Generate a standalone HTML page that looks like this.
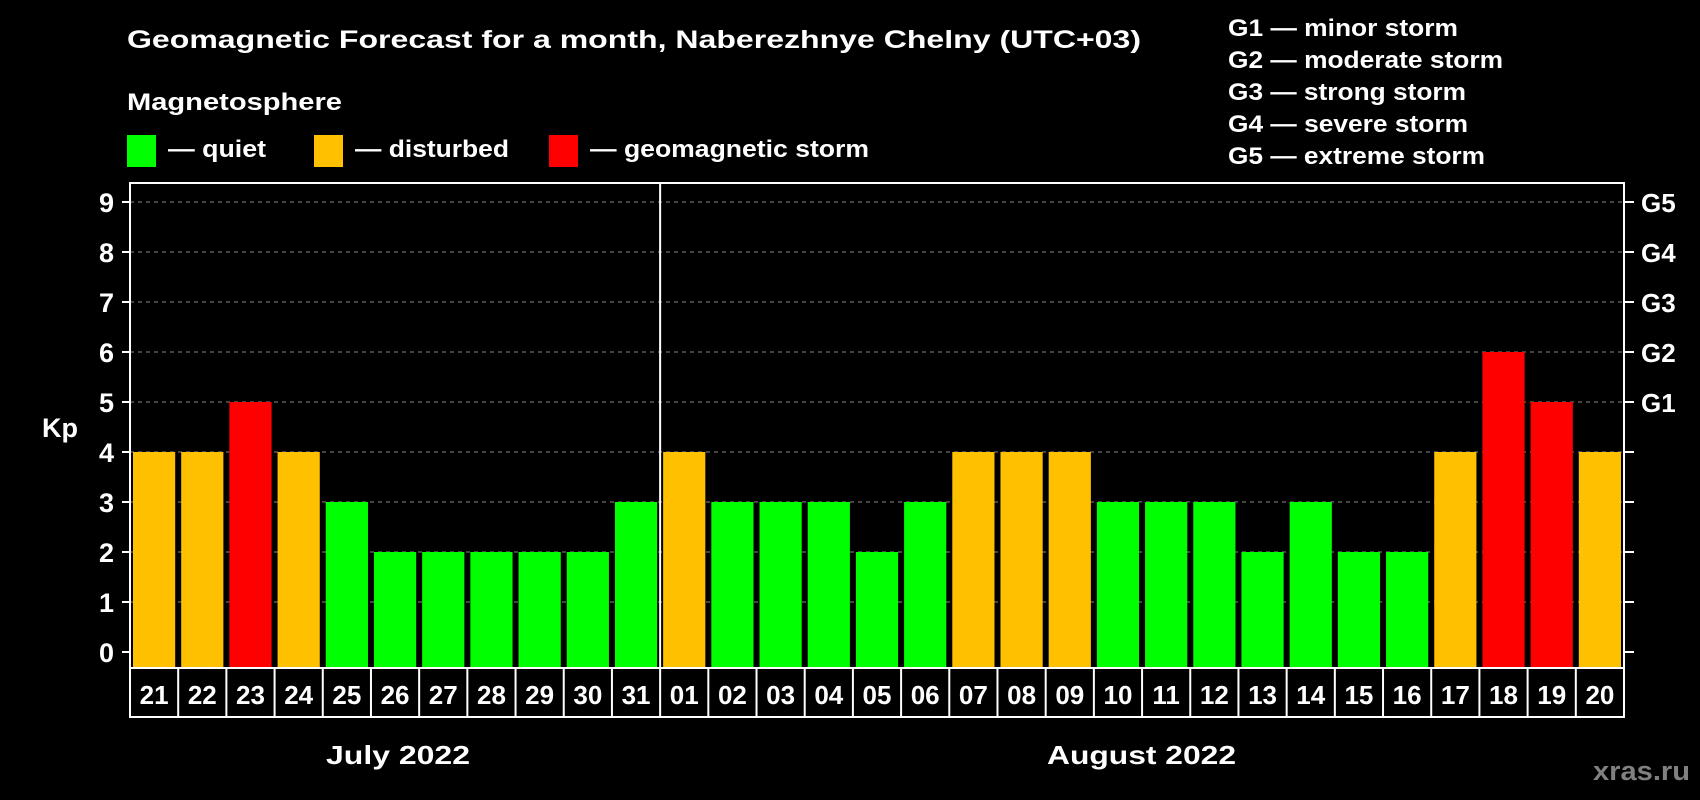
<!DOCTYPE html>
<html><head><meta charset="utf-8"><style>
html,body{margin:0;padding:0;background:#000;width:1700px;height:800px;overflow:hidden}
text{font-family:"Liberation Sans",Arial,sans-serif;font-weight:bold;fill:#fff}
</style></head><body>
<svg id="chart" width="1700" height="800" viewBox="0 0 1700 800" xmlns="http://www.w3.org/2000/svg">
<text x="127" y="48" font-size="25" textLength="1014" lengthAdjust="spacingAndGlyphs">Geomagnetic Forecast for a month, Naberezhnye Chelny (UTC+03)</text>
<text x="127" y="110" font-size="24" textLength="215" lengthAdjust="spacingAndGlyphs">Magnetosphere</text>
<g><rect x="127" y="135" width="29" height="32" fill="#00ff00"/><text x="168" y="157" font-size="24" textLength="98" lengthAdjust="spacingAndGlyphs">— quiet</text></g>
<g><rect x="314" y="135" width="29" height="32" fill="#ffc000"/><text x="355" y="157" font-size="24" textLength="154" lengthAdjust="spacingAndGlyphs">— disturbed</text></g>
<g><rect x="549" y="135" width="29" height="32" fill="#ff0000"/><text x="590" y="157" font-size="24" textLength="279" lengthAdjust="spacingAndGlyphs">— geomagnetic storm</text></g>
<g font-size="24">
<text x="1228" y="36" textLength="230" lengthAdjust="spacingAndGlyphs">G1 — minor storm</text>
<text x="1228" y="68" textLength="275" lengthAdjust="spacingAndGlyphs">G2 — moderate storm</text>
<text x="1228" y="100" textLength="238" lengthAdjust="spacingAndGlyphs">G3 — strong storm</text>
<text x="1228" y="132" textLength="240" lengthAdjust="spacingAndGlyphs">G4 — severe storm</text>
<text x="1228" y="164" textLength="257" lengthAdjust="spacingAndGlyphs">G5 — extreme storm</text>
</g>
<g id="grid"></g><g id="bars"></g><g id="axes"></g>
<text x="42" y="437" font-size="27">Kp</text>
<text x="326" y="764" font-size="26" textLength="144" lengthAdjust="spacingAndGlyphs">July 2022</text>
<text x="1047" y="764" font-size="26" textLength="189" lengthAdjust="spacingAndGlyphs">August 2022</text>
<text x="1593" y="780" font-size="27" style="fill:#808080" textLength="97" lengthAdjust="spacingAndGlyphs">xras.ru</text>
</svg>
<script>
const days = ["21","22","23","24","25","26","27","28","29","30","31","01","02","03","04","05","06","07","08","09","10","11","12","13","14","15","16","17","18","19","20"];
const kpValues = [4,4,5,4,3,2,2,2,2,2,3,4,3,3,3,2,3,4,4,4,3,3,3,2,3,2,2,4,6,5,4];
const yTicks = [0,1,2,3,4,5,6,7,8,9];
const gLabels = ["","","","","","G1","G2","G3","G4","G5"];
const monthSplit = 11;

const NS="http://www.w3.org/2000/svg";
const L=130,R=1624,T=183,B=668,Y0=652,U=50,DB=717;
const slot=(R-L)/days.length;
const y=v=>Y0-U*v, x=i=>L+i*slot;
function el(tag,a,p){const e=document.createElementNS(NS,tag);for(const k in a)e.setAttribute(k,a[k]);p.appendChild(e);return e;}
const grid=document.getElementById('grid'),bars=document.getElementById('bars'),axes=document.getElementById('axes');
yTicks.forEach((t,i)=>{
  if(t>0){const g=el('line',{x1:L,x2:R,y1:y(t),y2:y(t),stroke:'#888','stroke-width':1,'stroke-dasharray':'4,4'},grid);
  
  }
  const tl=el('line',{x1:L-8,x2:L,y1:y(t),y2:y(t),stroke:'#fff','stroke-width':2},axes);
  
  
  const tr=el('line',{x1:R,x2:R+10,y1:y(t),y2:y(t),stroke:'#fff','stroke-width':2},axes);
  
  
  const lb=el('text',{x:114,y:y(t)+10,'font-size':27,'text-anchor':'end'},axes);lb.textContent=t;
  
  
  if(gLabels[i]){const gl=el('text',{x:1641,y:y(t)+10,'font-size':26},axes);gl.textContent=gLabels[i];
  
  }
});
kpValues.forEach((v,i)=>{
  const c=v>=5?'#ff0000':(v>=4?'#ffc000':'#00ff00');
  const b=el('rect',{x:x(i)+3,y:y(v),width:slot-6,height:B-y(v),fill:c},bars);
  
  
});
const frame=el('rect',{x:L,y:T,width:R-L,height:B-T,fill:'none',stroke:'#fff','stroke-width':2},axes);


const row=el('rect',{x:L,y:B,width:R-L,height:DB-B,fill:'none',stroke:'#fff','stroke-width':2},axes);


days.forEach((d,i)=>{
  if(i>0&&i!==monthSplit){const s=el('line',{x1:x(i),x2:x(i),y1:B,y2:DB,stroke:'#fff','stroke-width':2},axes);
  
  }
  const t=el('text',{x:x(i)+slot/2,y:B+36,'font-size':26,'text-anchor':'middle'},axes);t.textContent=d;
  
  
});
const ms=el('line',{x1:x(monthSplit),x2:x(monthSplit),y1:T,y2:DB,stroke:'#fff','stroke-width':2},axes);


</script>
</body></html>
